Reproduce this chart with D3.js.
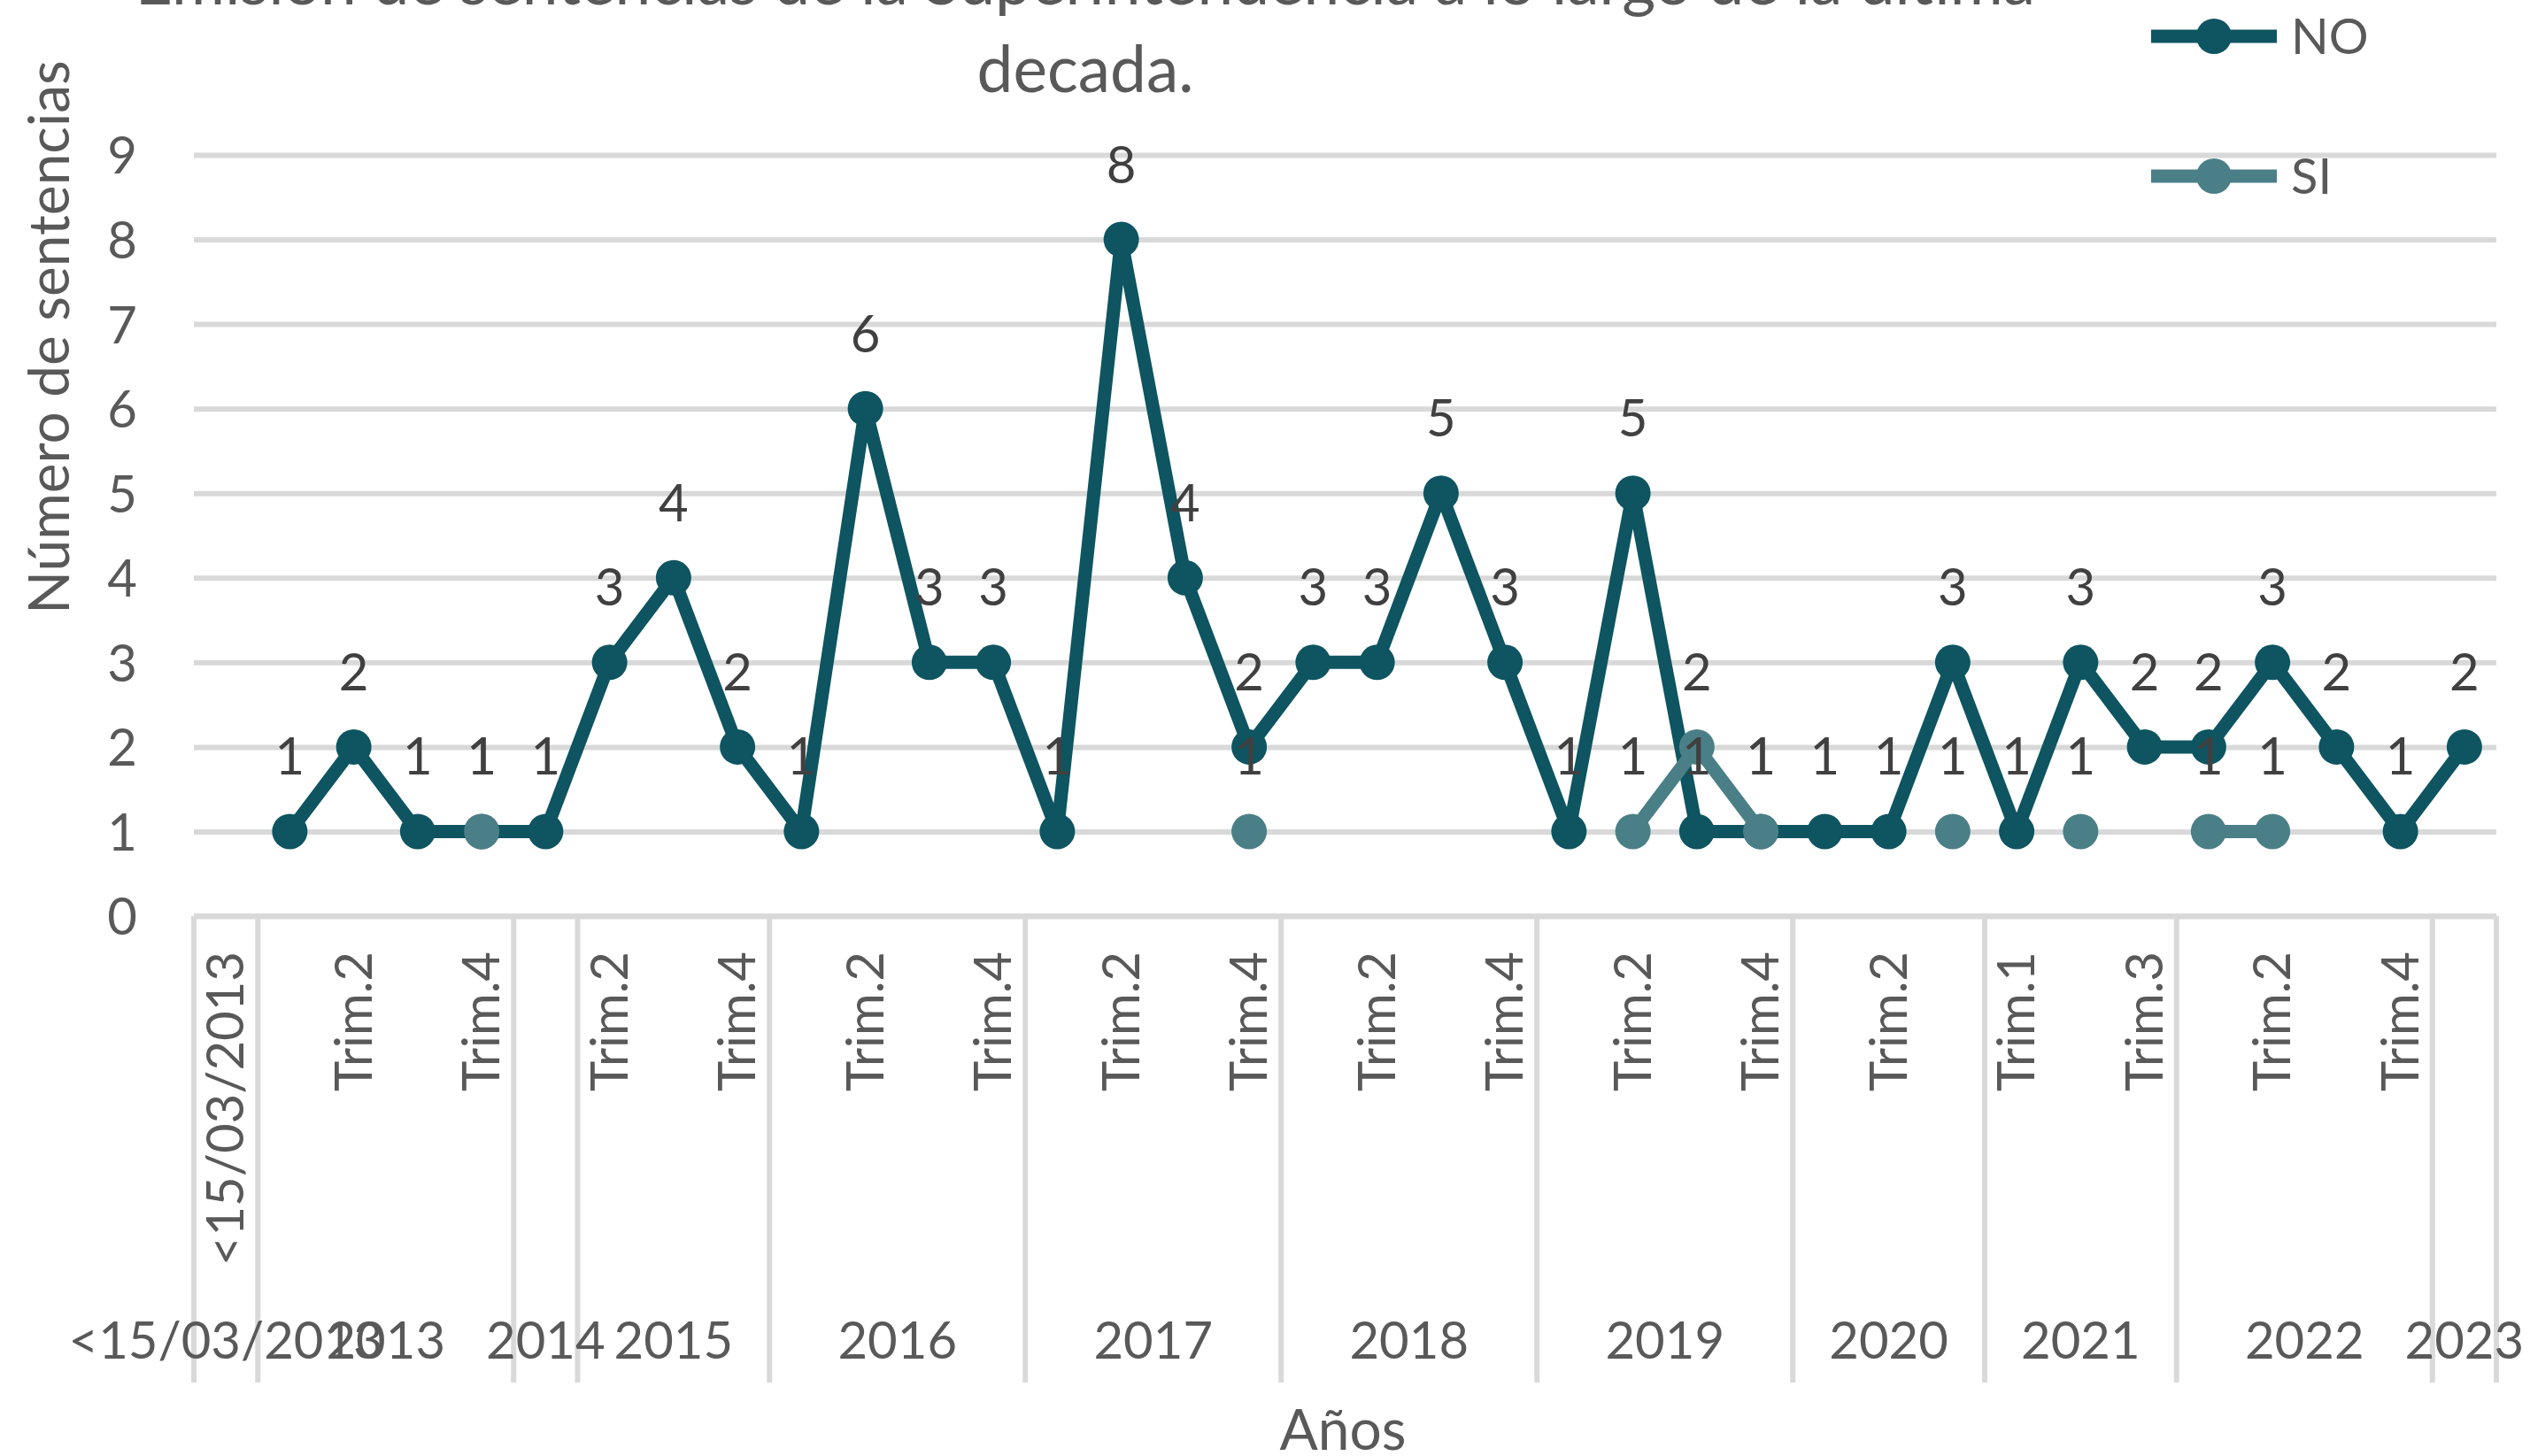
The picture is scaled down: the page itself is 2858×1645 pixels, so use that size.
<!DOCTYPE html>
<html>
<head>
<meta charset="utf-8">
<script src="https://cdn.jsdelivr.net/npm/d3@7"></script>
<style>
  html, body { margin: 0; padding: 0; background: #ffffff; }
  svg { display: block; }
  text { font-family: Lato, "Open Sans", sans-serif; }
</style>
</head>
<body>
<svg id="chart" width="2858" height="1645"></svg>
<script>
// ---------------- DATA ----------------
const titleLines = ["Emisión de sentencias de la Superintendencia a lo largo de la última", "decada."];
const yAxisTitle = "Número de sentencias";
const xAxisTitle = "Años";
const seriesNames = ["NO", "SI"];

// [year group, quarter label]
const categories = [
  ["<15/03/2013", "<15/03/2013"],
  ["2013", "Trim.1"], ["2013", "Trim.2"], ["2013", "Trim.3"], ["2013", "Trim.4"],
  ["2014", "Trim.1"],
  ["2015", "Trim.2"], ["2015", "Trim.3"], ["2015", "Trim.4"],
  ["2016", "Trim.1"], ["2016", "Trim.2"], ["2016", "Trim.3"], ["2016", "Trim.4"],
  ["2017", "Trim.1"], ["2017", "Trim.2"], ["2017", "Trim.3"], ["2017", "Trim.4"],
  ["2018", "Trim.1"], ["2018", "Trim.2"], ["2018", "Trim.3"], ["2018", "Trim.4"],
  ["2019", "Trim.1"], ["2019", "Trim.2"], ["2019", "Trim.3"], ["2019", "Trim.4"],
  ["2020", "Trim.1"], ["2020", "Trim.2"], ["2020", "Trim.3"],
  ["2021", "Trim.1"], ["2021", "Trim.2"], ["2021", "Trim.3"],
  ["2022", "Trim.1"], ["2022", "Trim.2"], ["2022", "Trim.3"], ["2022", "Trim.4"],
  ["2023", "Trim.1"]
];

const valuesNO = [null,
  1, 2, 1, 1,
  1,
  3, 4, 2,
  1, 6, 3, 3,
  1, 8, 4, 2,
  3, 3, 5, 3,
  1, 5, 1, 1,
  1, 1, 3,
  1, 3, 2,
  2, 3, 2, 1,
  2];

const valuesSI = [null,
  null, null, null, 1,
  null,
  null, null, null,
  null, null, null, null,
  null, null, null, 1,
  null, null, null, null,
  null, 1, 2, 1,
  null, null, 1,
  null, 1, null,
  1, 1, null, null,
  null];

const yTicks = [0, 1, 2, 3, 4, 5, 6, 7, 8, 9];

// ---------------- STYLE ----------------
const colors = { NO: "#0e5461", SI: "#4b7f88" };
const gridColor = "#d9d9d9";
const axisText = "#595959";
const labelText = "#404040";

const svg = d3.select("#chart");
const plotLeft = 219, plotRight = 2820, plotTop = 175, plotBottom = 1035;

const x = d3.scaleBand().domain(d3.range(categories.length)).range([plotLeft, plotRight]).padding(0);
const y = d3.scaleLinear().domain([0, 9]).range([plotBottom, plotTop]);
const cx = i => x(i) + x.bandwidth() / 2;

// Title
svg.append("g").selectAll("text").data(titleLines).join("text")
  .attr("x", 1226)
  .attr("y", (d, i) => 5 + i * 99)
  .attr("text-anchor", "middle")
  .attr("fill", axisText)
  .style("font-size", "73px")
  .text(d => d);

// Y axis with gridlines
const yAxis = svg.append("g")
  .attr("transform", `translate(${plotLeft},0)`)
  .call(d3.axisLeft(y).tickValues(yTicks).tickSizeInner(-(plotRight - plotLeft)).tickSizeOuter(0).tickPadding(64));
yAxis.select(".domain").remove();
yAxis.selectAll(".tick line").attr("stroke", gridColor).attr("stroke-width", 6);
yAxis.selectAll(".tick text").attr("fill", axisText).style("font-size", "58px").attr("dy", "0.36em");

// X axis (quarter labels)
const xAxis = svg.append("g")
  .attr("transform", `translate(0,${plotBottom})`)
  .call(d3.axisBottom(x).tickFormat(i => (i % 2 === 0 ? categories[i][1] : "")).tickSize(0));
xAxis.select(".domain").remove();
xAxis.selectAll(".tick text")
  .attr("fill", axisText)
  .style("font-size", "58px")
  .attr("transform", "rotate(-90)")
  .attr("x", -40)
  .attr("y", 0)
  .attr("dy", "0.35em")
  .style("text-anchor", "end");

// Year groups
const groups = [];
categories.forEach((c, i) => {
  const g = groups[groups.length - 1];
  if (g && g.year === c[0]) g.end = i;
  else groups.push({ year: c[0], start: i, end: i });
});
const sepY2 = 1562;
const sepXs = groups.map(g => x(g.start)).concat([x(categories.length - 1) + x.bandwidth()]);
svg.append("g").selectAll("line").data(sepXs).join("line")
  .attr("x1", d => d).attr("x2", d => d)
  .attr("y1", plotBottom).attr("y2", sepY2)
  .attr("stroke", gridColor).attr("stroke-width", 6);
svg.append("line")
  .attr("x1", plotLeft).attr("x2", plotRight).attr("y1", plotBottom).attr("y2", plotBottom)
  .attr("stroke", gridColor).attr("stroke-width", 6);

svg.append("g").selectAll("text").data(groups).join("text")
  .attr("x", g => (x(g.start) + x(g.end) + x.bandwidth()) / 2)
  .attr("y", 1535)
  .attr("text-anchor", "middle")
  .attr("fill", axisText)
  .style("font-size", "58px")
  .text(g => g.year);

// Axis titles
svg.append("text")
  .attr("transform", "translate(78,381) rotate(-90)")
  .attr("text-anchor", "middle")
  .attr("fill", axisText)
  .style("font-size", "64px")
  .text(yAxisTitle);

svg.append("text")
  .attr("x", 1517).attr("y", 1638)
  .attr("text-anchor", "middle")
  .attr("fill", axisText)
  .style("font-size", "64px")
  .text(xAxisTitle);

// Series
const series = [
  { name: seriesNames[0], values: valuesNO, color: colors.NO },
  { name: seriesNames[1], values: valuesSI, color: colors.SI }
];
const line = d3.line().defined(d => d.v != null).x(d => cx(d.i)).y(d => y(d.v));

series.forEach(s => {
  const pts = s.values.map((v, i) => ({ i, v }));
  const g = svg.append("g");
  g.append("path").datum(pts)
    .attr("d", line)
    .attr("fill", "none")
    .attr("stroke", s.color)
    .attr("stroke-width", 15)
    .attr("stroke-linejoin", "round");
  g.selectAll("circle").data(pts.filter(d => d.v != null)).join("circle")
    .attr("cx", d => cx(d.i)).attr("cy", d => y(d.v)).attr("r", 20)
    .attr("fill", s.color);
});

// Data labels
series.forEach(s => {
  const pts = s.values.map((v, i) => ({ i, v })).filter(d => d.v != null);
  svg.append("g").selectAll("text").data(pts).join("text")
    .attr("x", d => cx(d.i))
    .attr("y", d => y(d.v) - 64)
    .attr("text-anchor", "middle")
    .attr("fill", labelText)
    .style("font-size", "58px")
    .text(d => d.v);
});

// Legend
const legend = svg.append("g").selectAll("g").data(series).join("g")
  .attr("transform", (d, i) => `translate(0,${41 + i * 158})`);
legend.append("line")
  .attr("x1", 2430).attr("x2", 2572).attr("y1", 0).attr("y2", 0)
  .attr("stroke", d => d.color).attr("stroke-width", 15);
legend.append("circle").attr("cx", 2501).attr("cy", 0).attr("r", 20).attr("fill", d => d.color);
legend.append("text")
  .attr("x", 2588).attr("y", 20)
  .attr("fill", axisText)
  .style("font-size", "56px")
  .text(d => d.name);
</script>
</body>
</html>
